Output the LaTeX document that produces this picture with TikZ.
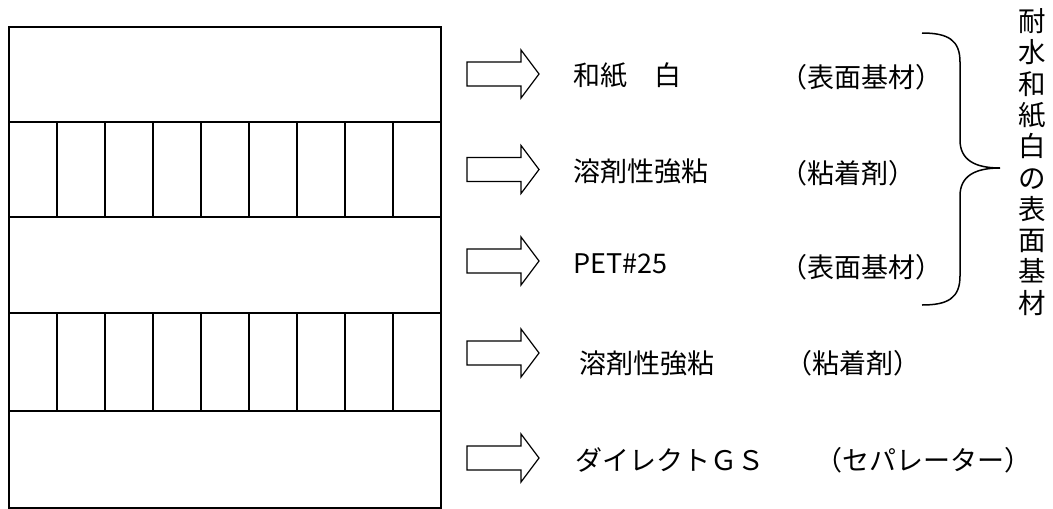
\documentclass[tikz,border=0pt]{standalone}
\usepackage{fontspec}
\usepackage{tikz}
\newfontfamily\jfont{Noto Sans CJK JP}
\tikzset{
  layer/.style={draw=black, line width=1.6pt},
  blockarrow/.style={draw=black, line width=1.2pt, line join=miter},
  lbl/.style={anchor=west, inner sep=0pt, font=\jfont\fontsize{27}{30}\selectfont},
}

\begin{document}
\begin{tikzpicture}[x=1pt, y=-1pt]
\useasboundingbox (0,0) rectangle (1053,509);
% layers
\draw[layer] (9,27) rectangle (441,122);
\draw[layer] (9,122) rectangle (441,217);
\draw[layer] (9,217) rectangle (441,313);
\draw[layer] (9,313) rectangle (441,411);
\draw[layer] (9,411) rectangle (441,508);
\foreach \x in {57,105,...,393} {
  \draw[layer] (\x,122) -- (\x,217);
  \draw[layer] (\x,313) -- (\x,411);
}
% arrows
\foreach \y in {74,169.5,261,353,458}
  \draw[blockarrow] (467,\y-12) -- (521,\y-12) -- (521,\y-24) -- (539,\y)
    -- (521,\y+24) -- (521,\y+12) -- (467,\y+12) -- cycle;
% names
\node[lbl] (n1) at (573,75) {和紙　白};
\node[lbl] (n2) at (573,171) {溶剤性強粘};
\node[lbl] (n3) at (573,264) {PET\#25};
\node[lbl] (n4) at (579,363) {溶剤性強粘};
\node[lbl] (n5) at (575,460) {ダイレクトＧＳ};
% kinds
\node[lbl] (k1) at (780,77) {（表面基材）};
\node[lbl] (k2) at (780,173) {（粘着剤）};
\node[lbl] (k3) at (780,267) {（表面基材）};
\node[lbl] (k4) at (785,363) {（粘着剤）};
\node[lbl] (k5) at (815,460) {（セパレーター）};
% brace
\draw[line width=1.5pt] (922,33) .. controls (948,33) and (960,40) .. (960,62)
  -- (960,140) .. controls (960,160) and (975,168) .. (1000,168)
  .. controls (975,168) and (960,176) .. (960,196)
  -- (960,276) .. controls (960,298) and (948,305) .. (922,305);
\node[inner sep=0pt, align=center, font=\jfont\fontsize{27.5}{31.3}\selectfont] (side) at (1032,162)
  {耐\\水\\和\\紙\\白\\の\\表\\面\\基\\材};
\end{tikzpicture}
\end{document}
